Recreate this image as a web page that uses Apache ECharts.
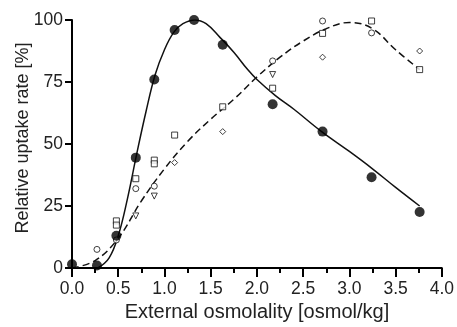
<!DOCTYPE html>
<html>
<head>
<meta charset="utf-8" />
<title>Relative uptake rate</title>
<script src="https://cdn.jsdelivr.net/npm/echarts@6/dist/echarts.min.js"></script>
<style>
html, body { margin: 0; padding: 0; background: #fff; }
#main { width: 457px; height: 327px; }
</style>
</head>
<body>
<div id="main"></div>
<script type="text/javascript">
// measured points
var filledPts = [[0, 1.5], [0.27, 1], [0.48, 13], [0.69, 44.5], [0.89, 76], [1.11, 96], [1.32, 100],
  [1.63, 90], [2.17, 66], [2.71, 55], [3.24, 36.6], [3.76, 22.6]];
var circlePts = [[0.27, 7.5], [0.48, 11.3], [0.69, 32], [0.89, 33], [2.17, 83.5], [2.71, 99.6], [3.24, 94.8]];
var squarePts = [[0.48, 19], [0.48, 17.3], [0.69, 36], [0.89, 43.5], [0.89, 42], [1.11, 53.6], [1.63, 65],
  [2.17, 72.5], [2.71, 94.6], [3.24, 99.6], [3.76, 80]];
var trianglePts = [[0.69, 21], [0.89, 29], [2.17, 78]];
var diamondPts = [[1.11, 42.5], [1.63, 55], [2.71, 85], [3.76, 87.5]];

// fitted curves
var solidFit = [[0.28, 0], [0.4, 4], [0.5, 13], [0.6, 28], [0.7, 46], [0.8, 63], [0.9, 78], [1.0, 88],
  [1.1, 95], [1.2, 98.5], [1.33, 100], [1.45, 98.5], [1.6, 93], [1.75, 87], [1.9, 80], [2.0, 76],
  [2.2, 69.5], [2.4, 64], [2.7, 55], [3.0, 47], [3.25, 40], [3.5, 32.5], [3.76, 25]];
var dashedFit = [[0, 0], [0.25, 3], [0.5, 12], [0.75, 27], [1.0, 40], [1.25, 51], [1.5, 60], [1.75, 68],
  [2.0, 77], [2.25, 85], [2.5, 91.5], [2.75, 96.5], [3.0, 99], [3.25, 96.5], [3.5, 88], [3.76, 80]];

var xTicks = { min: 0, max: 4, step: 0.5 };
var yTicks = { min: 0, max: 100, step: 25 };

var font = 'Liberation Sans';
var ink = '#222';

function openMarks(data, symbol, size, rotate) {
  return {
    type: 'scatter', data: data, symbol: symbol, symbolSize: size, symbolRotate: rotate || 0,
    itemStyle: { color: '#fff', borderColor: '#111', borderWidth: 1 }, z: 4
  };
}

var chart = echarts.init(document.getElementById('main'));
chart.setOption({
  animation: false,
  backgroundColor: '#fff',
  grid: { left: 72, right: 13, top: 20, bottom: 59 },
  xAxis: {
    type: 'value', min: xTicks.min, max: xTicks.max, interval: xTicks.step,
    name: 'External osmolality [osmol/kg]', nameLocation: 'middle', nameGap: 34,
    nameMoveOverlap: false,
    nameTextStyle: { fontFamily: font, fontSize: 20, color: ink, verticalAlign: 'top' },
    axisLine: { lineStyle: { color: '#000', width: 2 } },
    axisTick: { length: 9, lineStyle: { width: 2, color: '#000' } },
    minorTick: { show: true, splitNumber: 2, length: 5, lineStyle: { width: 2, color: '#000' } },
    splitLine: { show: false },
    axisLabel: { fontFamily: font, fontSize: 17.5, color: ink, margin: 12,
      formatter: function (v) { return v.toFixed(1); } }
  },
  yAxis: {
    type: 'value', min: yTicks.min, max: yTicks.max, interval: yTicks.step,
    name: 'Relative uptake rate [%]', nameLocation: 'middle', nameGap: 40,
    nameMoveOverlap: false,
    nameTextStyle: { fontFamily: font, fontSize: 18, color: ink, padding: [0, 0, 0, 12] },
    axisLine: { show: true, lineStyle: { color: '#000', width: 2 } },
    axisTick: { show: true, length: 7, lineStyle: { width: 2, color: '#000' } },
    splitLine: { show: false },
    axisLabel: { fontFamily: font, fontSize: 17.5, color: ink, margin: 9 }
  },
  series: [
    { type: 'line', data: solidFit, smooth: 0.4, showSymbol: false,
      lineStyle: { color: '#111', width: 1.5 }, z: 2 },
    { type: 'line', data: dashedFit, smooth: 0.4, showSymbol: false,
      lineStyle: { color: '#111', width: 1.5, type: [7, 4] }, z: 2 },
    openMarks(circlePts, 'circle', 6),
    openMarks(squarePts, 'rect', 6),
    openMarks(trianglePts, 'triangle', 6, 180),
    openMarks(diamondPts, 'diamond', 6),
    { type: 'scatter', data: filledPts, symbol: 'circle', symbolSize: 10,
      itemStyle: { color: '#000' }, z: 5 }
  ]
});
</script>
</body>
</html>
